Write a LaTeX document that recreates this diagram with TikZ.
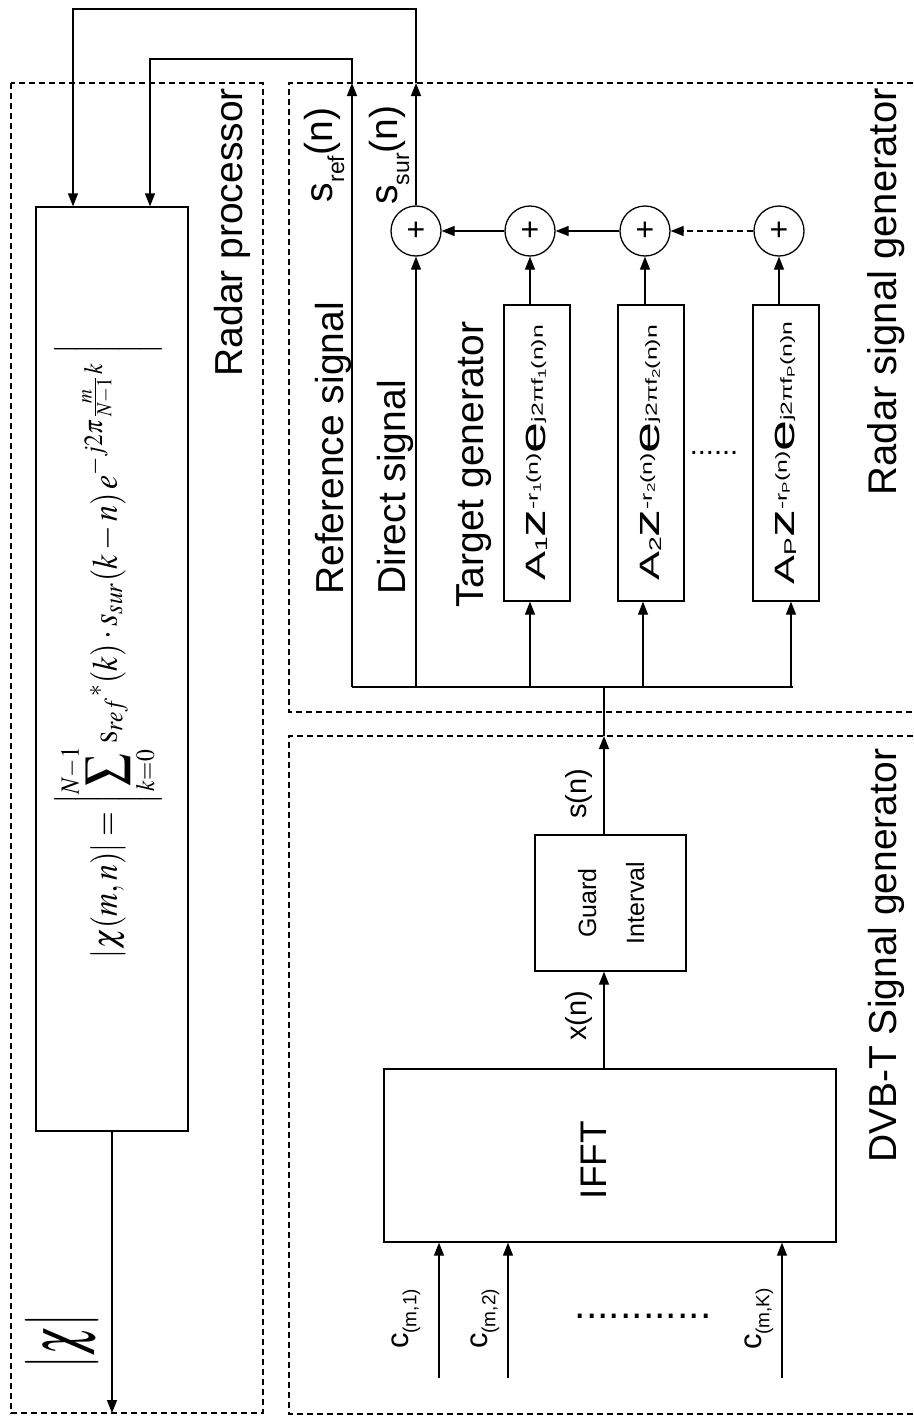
\documentclass[tikz,border=0pt]{standalone}
\usepackage{mathptmx}
\usepackage[no-math]{fontspec}
\setmainfont{Liberation Sans}
\usepackage{graphicx}
\usetikzlibrary{arrows.meta,calc}
\newcommand{\fs}[1]{\fontsize{#1}{#1}\selectfont}
\newcommand{\vtext}[1]{\rotatebox{90}{#1}}
\newcommand{\tgt}[1]{\scalebox{1.55}[1]{\fs{28}A\raisebox{-2pt}{\fs{17}#1}{\fs{36}z}\raisebox{8pt}{\fs{16}-r\raisebox{-3pt}{\fs{11}#1}(n)}{\fs{36}e}\raisebox{3pt}{\fs{16}j2πf\raisebox{-3pt}{\fs{11}#1}(n)n}}}
\newcommand{\sig}[1]{{\fs{39}s}\raisebox{-12pt}{\fs{23}#1}{\fs{39}(n)}}
\newcommand{\cin}[1]{{\fs{31}c}\raisebox{-8pt}{\fs{19}(m,#1)}}
\begin{document}
\begin{tikzpicture}[x=1pt,y=-1pt,
  ln/.style={line width=1.3pt},
  arr/.style={line width=1.3pt,-{Triangle[length=13pt,width=10pt]}},
  dsh/.style={line width=1.1pt,dash pattern=on 6pt off 4pt},
  blk/.style={draw,line width=1.3pt,inner sep=0pt},
  add/.style={circle,draw,line width=1.3pt,minimum size=50pt,inner sep=0pt,font=\fs{32}},
  lbl/.style={inner sep=0pt}]
\useasboundingbox (0,0) rectangle (913,1416);

% dashed groups
\draw[dsh] (11,83) rectangle (263,1413);
\draw[dsh] (913,83) -- (289,83) -- (289,712) -- (913,712);
\draw[dsh] (913,736) -- (289,736) -- (289,1414) -- (913,1414);

% radar processor
\node[blk,minimum width=152pt,minimum height=924pt] (proc) at (112,669) {};
\node[lbl] (fml) at (108,651) {\vtext{\scalebox{1}[1.12]{\resizebox{614pt}{!}{$\displaystyle \left|\chi(m,n)\right| = \left|\sum_{k=0}^{N-1}\mathrm{s}_{ref}{}^{*}(k)\cdot s_{sur}(k-n)\,e^{-j2\pi\frac{m}{N-1}k}\;\right|$}}}};
\node[lbl] (chi) at (62,1341) {\vtext{\resizebox{54pt}{55pt}{$\left|\chi\right|$}}};
\node[lbl,anchor=north] (lrp) at (232,88) {\vtext{\fs{39}Radar processor}};

% radar signal generator
\node[add] (a1) at (416,231) {+};
\node[add] (a2) at (530,231) {+};
\node[add] (a3) at (645,231) {+};
\node[add] (a4) at (779,231) {+};
\node[blk,minimum width=66pt,minimum height=296pt] (t1) at (537,453) {\vtext{\tgt{1}}};
\node[blk,minimum width=66pt,minimum height=296pt] (t2) at (651,453) {\vtext{\tgt{2}}};
\node[blk,minimum width=66pt,minimum height=296pt] (tp) at (786,453) {\vtext{\tgt{P}}};
\node[lbl] (dots1) at (714,453) {\fs{29}......};
\node[lbl] (lsref) at (324,155) {\vtext{\sig{ref}}};
\node[lbl] (lssur) at (389,155) {\vtext{\sig{sur}}};
\node[lbl,anchor=south] (lref) at (333,595) {\vtext{\fs{39}Reference signal}};
\node[lbl,anchor=south] (ldir) at (395,595) {\vtext{\fs{39}Direct signal}};
\node[lbl,anchor=south] (ltg) at (474,608) {\vtext{\fs{39}Target generator}};
\node[lbl,anchor=north] (lrsg) at (886,88) {\vtext{\fs{40}Radar signal generator}};

% DVB-T generator
\node[blk,minimum width=151pt,minimum height=136pt] (g) at (610.5,903) {\vtext{\fontsize{25}{48}\selectfont\begin{tabular}{@{}c@{}}Guard\\Interval\end{tabular}}};
\node[blk,minimum width=452pt,minimum height=173pt] (ifft) at (610,1155.5) {};
\node[lbl] (lifft) at (594,1160) {\vtext{\fs{37}IFFT}};
\node[lbl] (lsn) at (579,794) {\vtext{\fs{29}s(n)}};
\node[lbl] (lxn) at (579,1016) {\vtext{\fs{29}x(n)}};
\node[lbl] (lc1) at (406,1319) {\vtext{\cin{1}}};
\node[lbl] (lc2) at (485,1319) {\vtext{\cin{2}}};
\node[lbl] (lck) at (759,1319) {\vtext{\cin{K}}};
\node[lbl] (dots2) at (643,1316) {\fs{41}............};
\node[lbl,anchor=south] (ldvb) at (886,1163) {\vtext{\fs{39}DVB-T Signal generator}};

% coordinates
\coordinate (sref) at (352,83);
\coordinate (ssur) at (416,83);
\coordinate (k1) at (73,9);
\coordinate (k2) at (150,59);
\coordinate (bl) at (352,687);
\coordinate (br) at (793,687);
\coordinate (dj) at (416,687);
\coordinate (i1) at (530,687);
\coordinate (i2) at (643,687);
\coordinate (ip) at (791,687);
\coordinate (tr) at (604,736);
\coordinate (bj) at (604,687);
\coordinate (c1) at (439,1378);
\coordinate (c2) at (508,1378);
\coordinate (ck) at (782,1378);
\coordinate (out) at (112,1413);

% connectors
\draw[ln] (bl) -- (br);
\draw[arr] (bl) -- (sref);
\draw[arr] (sref) |- (k2) -- (k2 |- proc.north);
\draw[arr] (a1) -- (ssur);
\draw[arr] (ssur) |- (k1) -- (k1 |- proc.north);
\draw[arr] (proc.south -| out) -- (out);
\draw[arr] (dj) -- (a1);
\draw[arr] (a2) -- (a1);
\draw[arr] (a3) -- (a2);
\draw[arr,dash pattern=on 6pt off 4pt] (a4) -- (a3);
\draw[arr] (i1) -- (i1 |- t1.south);
\draw[arr] (i2) -- (i2 |- t2.south);
\draw[arr] (ip) -- (ip |- tp.south);
\draw[arr] (a2 |- t1.north) -- (a2);
\draw[arr] (a3 |- t2.north) -- (a3);
\draw[arr] (a4 |- tp.north) -- (a4);
\draw[arr] (g.north -| tr) -- (tr);
\draw[ln] (tr) -- (bj);
\draw[arr] (ifft.north -| tr) -- (g.south -| tr);
\draw[arr] (c1) -- (c1 |- ifft.south);
\draw[arr] (c2) -- (c2 |- ifft.south);
\draw[arr] (ck) -- (ck |- ifft.south);
\end{tikzpicture}
\end{document}
